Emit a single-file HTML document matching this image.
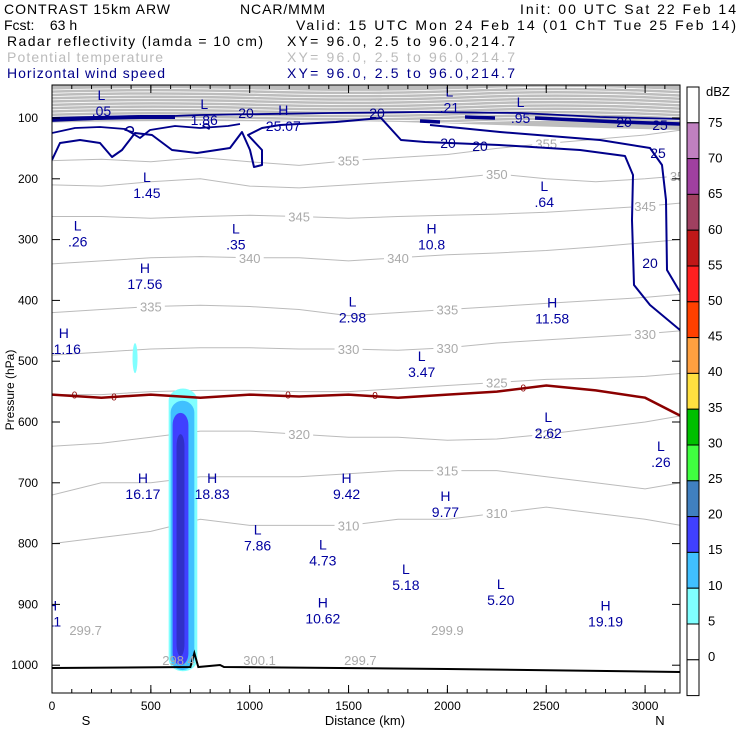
<!DOCTYPE html>
<html><head><meta charset="utf-8"><style>
body{margin:0;background:#fff;width:740px;height:740px;overflow:hidden;font-family:"Liberation Sans",sans-serif}
svg text{font-family:"Liberation Sans",sans-serif}
</style></head><body>
<svg id="chart" width="740" height="740" viewBox="0 0 740 740" xmlns="http://www.w3.org/2000/svg">
<g font-size="14" fill="#000" lengthAdjust="spacing">
<text x="4" y="14" textLength="166">CONTRAST 15km ARW</text>
<text x="240" y="14" textLength="85">NCAR/MMM</text>
<text x="520" y="14" textLength="216">Init: 00 UTC Sat 22 Feb 14</text>
<text x="4" y="30" xml:space="preserve">Fcst:    63 h</text>
<text x="296" y="30" textLength="440">Valid: 15 UTC Mon 24 Feb 14 (01 ChT Tue 25 Feb 14)</text>
<text x="7" y="46" textLength="256">Radar reflectivity (lamda = 10 cm)</text>
<text x="287" y="46" textLength="228">XY=  96.0,  2.5 to  96.0,214.7</text>
<text x="7" y="62" fill="#bbb" textLength="156">Potential temperature</text>
<text x="287" y="62" fill="#bbb" textLength="228">XY=  96.0,  2.5 to  96.0,214.7</text>
<text x="7" y="78" fill="#00008b" textLength="158">Horizontal wind speed</text>
<text x="287" y="78" fill="#00008b" textLength="228">XY=  96.0,  2.5 to  96.0,214.7</text>
</g>
<g id="plot"></g>
<rect x="52" y="85" width="628" height="608" fill="none" stroke="#000" stroke-width="1"/>
<g id="axes" font-size="12" fill="#000"></g>
<g id="cbar"></g>
</svg>
<script>
const distTicks=[0,500,1000,1500,2000,2500,3000];
const presTicks=[100,200,300,400,500,600,700,800,900,1000];
const gridD=[0,250,500,750,1000,1250,1500,1750,2000,2250,2500,2750,3000,3180];
const thetaLevels=[355,350,345,340,335,330,325,320,315,310];
const theta355=[170,168,172,165,172,178,170,165,160,150,142,135,128,120];
const theta350=[210,212,205,200,212,215,210,205,200,192,200,205,200,195];
const theta345=[262,262,265,262,260,262,265,262,260,258,255,250,245,240];
const theta340=[340,335,330,328,330,330,335,330,325,322,318,312,305,300];
const theta335=[420,415,410,408,410,415,425,420,415,410,405,400,395,390];
const theta330=[490,485,480,478,478,480,480,482,478,470,465,460,455,450];
const theta325=[555,555,550,548,548,550,550,545,540,535,530,528,525,520];
const theta320=[640,635,625,615,615,620,625,625,630,628,620,610,600,590];
const theta315=[720,700,700,690,690,690,685,680,680,680,690,700,710,700];
const theta310=[800,790,780,760,770,770,770,760,760,750,740,750,760,770];
const thetaData=[theta355,theta350,theta345,theta340,theta335,theta330,theta325,theta320,theta315,theta310];
const thetaLabelIdx=[[6,10],[9,13],[5,12],[4,7],[2,8],[6,8,12],[9],[5,10],[8],[6,9]];
const freezeP=[555,560,555,560,555,558,555,560,555,550,540,548,560,590];
const dbzLevels=[5,10,15,20];
const dbzLeft=[590,600,610,630];
const dbzRight=[735,720,690,670];
const dbzTop=[545,565,585,620];
const dbzBot=[1010,1008,1000,985];
const dbzColors=["#80ffff","#40c0ff","#4040ff","#3030c8"];
const extrema=[["L",".05",250,70],["L","1.86",770,85],["H","25.07",1170,95],["L",".21",2010,65],["L",".95",2370,82],
["L","1.45",480,205],["L",".64",2490,220],["L",".26",130,285],["L",".35",930,290],["H","10.8",1920,290],
["H","17.56",470,355],["L","2.98",1520,410],["H","11.58",2530,412],["H","11.16",60,462],["L","3.47",1870,500],
["L","2.62",2510,600],["L",".26",3080,648],["H","16.17",460,700],["H","18.83",810,700],["H","9.42",1490,700],
["H","9.77",1990,730],["L","7.86",1040,785],["L","4.73",1370,810],["L","5.18",1790,850],["L","5.20",2270,875],
["H","10.62",1370,905],["H","19.19",2800,910],["H",".11",0,910]];
const thetaMin=[["299.7",170,950],["298.4",640,1000],["300.1",1050,1000],["299.7",1560,1000],["299.9",2000,950]];
const X=d=>52+d*0.1977, Y=p=>118+(p-100)*0.608;
const NS="http://www.w3.org/2000/svg";
const plot=document.getElementById('plot');
function mk(t,a,parent){const e=document.createElementNS(NS,t);for(const k in a)e.setAttribute(k,a[k]);(parent||plot).appendChild(e);return e;}
const clip=mk('clipPath',{id:'pc'});mk('rect',{x:52,y:85,width:628,height:608},clip);
const g=mk('g',{'clip-path':'url(#pc)'});
const sb=mk('path',{d:'M52 85 L680 85 L680 130 L560 127 L400 122 L200 121 L52 123 Z',fill:'#bdbdbd'},g);


for(let i=0;i<11;i++){const y0=89+i*3.3;
const e=mk('path',{d:`M52 ${y0+1} Q150 ${y0-2} 260 ${y0+1} T470 ${y0} T680 ${y0+1.5}`,fill:'none',stroke:'#fff','stroke-width':0.8},g);

}
thetaData.forEach((arr,i)=>{const d=arr.map((p,j)=>(j?'L':'M')+X(gridD[j]).toFixed(1)+' '+Y(p).toFixed(1)).join(' ');
const e=mk('path',{d,fill:'none',stroke:'#bbb','stroke-width':1},g);


thetaLabelIdx[i].forEach(j=>{const xx=X(gridD[j]),yy=Y(arr[j]);
mk('rect',{x:xx-14,y:yy-7,width:28,height:13,fill:'#fff'},g);
const t=mk('text',{x:xx,y:yy+5,'font-size':13,fill:'#aaa','text-anchor':'middle'},g);t.textContent=thetaLevels[i];

});});
dbzLevels.forEach((lv,i)=>{const x1=X(dbzLeft[i]),x2=X(dbzRight[i]),y1=Y(dbzTop[i]),y2=Y(dbzBot[i]);
const e=mk('rect',{x:x1,y:y1,width:x2-x1,height:y2-y1,rx:(x2-x1)/2,ry:12,fill:dbzColors[i]},g);

});
const cell=mk('ellipse',{cx:X(420),cy:Y(495),rx:2.5,ry:15,fill:'#80ffff'},g);


const windPaths=[
["wind-contour-20-upper","M52 121 L120 118 L200 115 L330 113 L420 112 L520 113 L600 117 L680 119",1.8],
["wind-contour-25-jet","M52 119 L140 117 M140 117 L175 117",4],
["wind-contour-25-jet","M420 121 L440 122 M465 117 L495 118 M535 118 L620 122 L680 124",3.5],
["wind-contour-20-lower","M52 160 L60 143 L80 140 L100 143 L112 157 L122 150 L135 133 L152 135 L172 150 L197 153 L230 148 L242 132 L250 150 L254 167 L262 165 L262 150 L248 135 L262 128 L280 125 L336 122 L381 118 L401 140 L425 142 L499 145 L580 150 L625 156 L633 175 L632 220 L634 285 L650 305 L680 330",2],
["wind-contour-25-right","M430 125 L500 132 L600 140 L650 148 L662 165 L666 200 L667 270 L680 292",2],
["wind-contour-20-left-inner","M52 133 L75 128 L100 127 L125 129 L140 138 L150 130 L175 126 L200 128 L228 126 L240 124",1.8],
["wind-contour-small","M125 130 C128 125 135 126 133 132 Z M203 126 C205 122 211 124 209 129 Z",1.5]];
windPaths.forEach(w=>{const e=mk('path',{d:w[1],fill:'none',stroke:'#00008b','stroke-width':w[2],'stroke-linejoin':'round'},g);

});
[["20",246,118],["20",377,118],["20",448,148],["20",480,151],["20",624,127],["25",660,130],["25",658,158],["20",650,268]].forEach(a=>{
const t=mk('text',{x:a[1],y:a[2],'font-size':14,fill:'#00008b','text-anchor':'middle'},g);t.textContent=a[0];

});
const fz=mk('path',{d:freezeP.map((p,j)=>(j?'L':'M')+X(gridD[j]).toFixed(1)+' '+Y(p).toFixed(1)).join(' '),fill:'none',stroke:'#8b0000','stroke-width':2.5},g);


[[100,555],[300,558],[1180,555],[1620,556],[2370,543]].forEach(a=>{const t=mk('text',{x:X(a[0]),y:Y(a[1])+4,'font-size':10,fill:'#8b0000'},g);t.textContent='0';

});
const tr=mk('path',{d:`M52 668 L${X(700)} 667 L${X(720)} 653 L${X(740)} 667 L${X(850)} 665 L${X(870)} 667 L${X(2000)} 669 L680 672`,fill:'none',stroke:'#000','stroke-width':2},g);


extrema.forEach(a=>{const x=X(a[2]),y=Y(a[3]);
const t1=mk('text',{x,y,'font-size':14,fill:'#0000a0','text-anchor':'middle'},g);t1.textContent=a[0];


const t2=mk('text',{x,y:y+16,'font-size':14,fill:'#0000a0','text-anchor':'middle'},g);t2.textContent=a[1];

});
thetaMin.forEach(a=>{const t=mk('text',{x:X(a[1]),y:Y(a[2]),'font-size':13,fill:'#aaa','text-anchor':'middle'},g);t.textContent=a[0];

});
const ax=document.getElementById('axes');
distTicks.forEach(d=>{const x=X(d);mk('line',{x1:x,x2:x,y1:693,y2:685,stroke:'#000'},ax);mk('line',{x1:x,x2:x,y1:85,y2:93,stroke:'#000'},ax);
const t=mk('text',{x,y:710,'text-anchor':'middle','font-size':12},ax);t.textContent=d;

});
for(let d=100;d<3180;d+=100){const x=X(d);mk('line',{x1:x,x2:x,y1:693,y2:689,stroke:'#000'},ax);mk('line',{x1:x,x2:x,y1:85,y2:89,stroke:'#000'},ax);}
presTicks.forEach(p=>{const y=Y(p);mk('line',{x1:52,x2:60,y1:y,y2:y,stroke:'#000'},ax);mk('line',{x1:680,x2:672,y1:y,y2:y,stroke:'#000'},ax);
const t=mk('text',{x:38,y:y+4,'text-anchor':'end','font-size':12},ax);t.textContent=p;

});
[["S",86,725],["N",660,725],["Distance (km)",365,725]].forEach(a=>{const t=mk('text',{x:a[1],y:a[2],'text-anchor':'middle','font-size':13},ax);t.textContent=a[0];

});
const yl=mk('text',{x:14,y:390,'text-anchor':'middle','font-size':12,transform:'rotate(-90 14 390)'},ax);yl.textContent='Pressure (hPa)';


const cb=document.getElementById('cbar');
const cbColors=["#ffffff","#c080c0","#a040a0","#a04060","#c01818","#ff2020","#ff4000","#ffa040","#ffe040","#00c000","#40ff40","#4080c0","#4040ff","#40c0ff","#80ffff","#ffffff","#ffffff"];
const cbLabels=[75,70,65,60,55,50,45,40,35,30,25,20,15,10,5,0];
cbColors.forEach((c,i)=>{const r=mk('rect',{x:687,y:87+i*35.8,width:12,height:35.8,fill:c,stroke:'#000','stroke-width':1},cb);

});
cbLabels.forEach((v,i)=>{const t=mk('text',{x:708,y:127+i*35.6,'font-size':13},cb);t.textContent=v;

});
const du=mk('text',{x:706,y:96,'font-size':13},cb);du.textContent='dBZ';


</script>
</body></html>
